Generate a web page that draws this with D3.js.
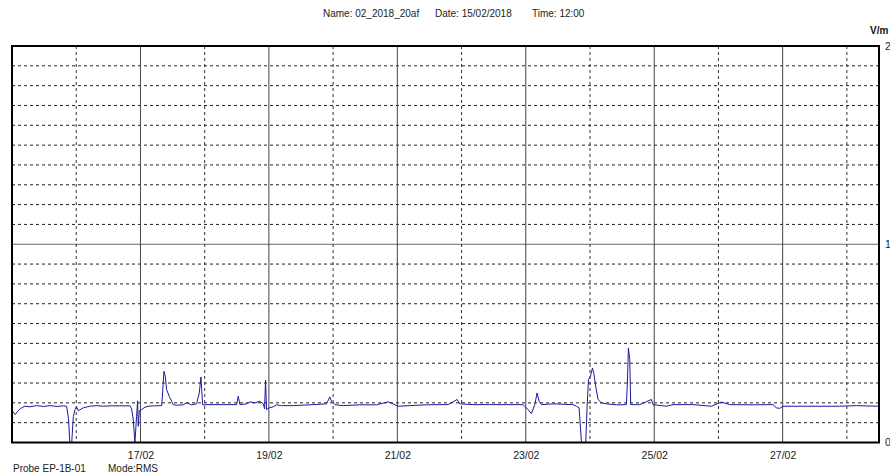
<!DOCTYPE html>
<html>
<head>
<meta charset="utf-8">
<script src="https://cdn.jsdelivr.net/npm/d3@7"></script>
<style>
  body { margin: 0; background: #fff; }
  text { font-family: "Liberation Sans", Arial, sans-serif; }
</style>
</head>
<body>
<div id="chart"></div>
<script>
// time in days of February 2018 (15.5 = 15/02 12:00)
var days = [15.01, 15.05, 15.10, 15.15, 15.20, 15.28, 15.38, 15.49, 15.59, 15.70, 15.80, 15.85, 15.88, 15.90, 15.93, 15.955, 15.98, 16.006, 16.032, 16.11, 16.21, 16.32, 16.42, 16.53, 16.68, 16.84, 16.862, 16.888, 16.914, 16.94, 16.956, 16.966, 16.982, 17.018, 17.07, 17.12, 17.22, 17.33, 17.345, 17.366, 17.387, 17.407, 17.449, 17.485, 17.511, 17.563, 17.667, 17.719, 17.796, 17.874, 17.916, 17.942, 17.968, 18.082, 18.289, 18.497, 18.523, 18.549, 18.652, 18.704, 18.782, 18.86, 18.912, 18.933, 18.948, 18.964, 19.005, 19.067, 19.119, 19.197, 19.378, 19.638, 19.898, 19.949, 19.975, 20.027, 20.157, 20.416, 20.676, 20.857, 21.013, 21.195, 21.454, 21.661, 21.791, 21.931, 21.973, 22.18, 22.44, 22.699, 22.958, 22.984, 23.036, 23.088, 23.14, 23.176, 23.207, 23.244, 23.425, 23.736, 23.788, 23.83, 23.867, 23.903, 23.934, 23.955, 23.976, 24.007, 24.038, 24.058, 24.089, 24.125, 24.178, 24.255, 24.411, 24.567, 24.582, 24.598, 24.619, 24.634, 24.774, 24.956, 24.981, 25.189, 25.293, 25.604, 25.89, 26.045, 26.175, 26.538, 26.849, 26.901, 26.953, 27.005, 27.368, 27.887, 28.146, 28.484];

// field strength, V/m
var values = [0.158, 0.141, 0.162, 0.175, 0.183, 0.18, 0.186, 0.182, 0.186, 0.182, 0.185, 0.183, 0.12, 0, 0, 0.13, 0.165, 0.18, 0.16, 0.175, 0.183, 0.186, 0.183, 0.185, 0.185, 0.185, 0.17, 0.116, 0, 0.132, 0.21, 0.082, 0.16, 0.166, 0.178, 0.183, 0.185, 0.186, 0.25, 0.359, 0.334, 0.267, 0.233, 0.208, 0.191, 0.188, 0.19, 0.2, 0.19, 0.195, 0.25, 0.331, 0.19, 0.191, 0.191, 0.191, 0.233, 0.191, 0.195, 0.205, 0.2, 0.208, 0.195, 0.17, 0.314, 0.166, 0.175, 0.18, 0.19, 0.186, 0.186, 0.19, 0.195, 0.23, 0.208, 0.191, 0.186, 0.19, 0.19, 0.205, 0.183, 0.186, 0.19, 0.191, 0.191, 0.217, 0.195, 0.191, 0.191, 0.191, 0.191, 0.183, 0.166, 0.146, 0.191, 0.25, 0.208, 0.191, 0.195, 0.191, 0.183, 0.175, 0, 0, 0, 0.183, 0.317, 0.334, 0.376, 0.351, 0.284, 0.217, 0.2, 0.195, 0.19, 0.191, 0.3, 0.477, 0.418, 0.191, 0.191, 0.217, 0.191, 0.183, 0.191, 0.191, 0.183, 0.204, 0.191, 0.19, 0.191, 0.175, 0.172, 0.183, 0.183, 0.183, 0.186, 0.183];

var yTicks = [0, 1, 2];
var titleParts = ["Name: 02_2018_20af", "Date: 15/02/2018", "Time: 12:00"];
var probe = "Probe EP-1B-01";
var mode = "Mode:RMS";
var unit = "V/m";

var width = 890, height = 475;
var plot = {left: 12, right: 879, top: 46, bottom: 442.5};

var svg = d3.select("#chart")
    .append("svg")
    .attr("width", width)
    .attr("height", height);

function toDate(d) {
    return new Date(2018, 1, 1, 0, 0, 0, 0).getTime() + (d - 1) * 86400000;
}

var x = d3.scaleTime()
    .domain([new Date(2018, 1, 15), new Date(2018, 1, 28, 12)])
    .range([plot.left, plot.right]);

var y = d3.scaleLinear()
    .domain([0, 2])
    .range([plot.bottom, plot.top]);

// title
var titleX = [323, 435, 532];
svg.selectAll(".title")
    .data(titleParts)
    .enter()
    .append("text")
    .attr("x", function(d, i) { return titleX[i]; })
    .attr("y", 17)
    .attr("font-size", 10)
    .attr("fill", "#222")
    .text(function(d) { return d; });

// horizontal grid (every 0.1, solid at 1)
var hLines = d3.range(1, 20).map(function(i) { return i / 10; });
svg.append("g")
    .selectAll("line")
    .data(hLines)
    .enter()
    .append("line")
    .attr("x1", plot.left)
    .attr("x2", plot.right)
    .attr("y1", function(d) { return y(d); })
    .attr("y2", function(d) { return y(d); })
    .attr("stroke", function(d) { return Math.abs(d - 1) < 1e-6 ? "#666" : "#222"; })
    .attr("stroke-width", 1)
    .attr("stroke-dasharray", function(d) { return Math.abs(d - 1) < 1e-6 ? null : "3,3"; });

// vertical grid (each day, solid on labelled days)
var dayTicks = x.ticks(d3.timeDay.every(1)).filter(function(d) {
    return x(d) > plot.left + 1 && x(d) < plot.right - 1;
});
svg.append("g")
    .selectAll("line")
    .data(dayTicks)
    .enter()
    .append("line")
    .attr("x1", function(d) { return x(d); })
    .attr("x2", function(d) { return x(d); })
    .attr("y1", plot.top)
    .attr("y2", plot.bottom)
    .attr("stroke", function(d) { return d.getDate() % 2 === 1 ? "#444" : "#333"; })
    .attr("stroke-width", 1)
    .attr("stroke-dasharray", function(d) { return d.getDate() % 2 === 1 ? null : "3,3"; });

// x axis labels
var labelDays = dayTicks.filter(function(d) { return d.getDate() % 2 === 1; });
var xAxis = svg.append("g")
    .attr("transform", "translate(0," + plot.bottom + ")")
    .call(d3.axisBottom(x).tickValues(labelDays).tickSize(0).tickPadding(9)
        .tickFormat(d3.timeFormat("%d/%m")));
xAxis.select(".domain").remove();
xAxis.selectAll("text")
    .attr("font-family", "Liberation Sans, Arial, sans-serif")
    .attr("font-size", 10.5)
    .attr("fill", "#222");

// right axis labels
var yAxis = svg.append("g")
    .attr("transform", "translate(" + (plot.right + 2) + ",0)")
    .call(d3.axisRight(y).tickValues(yTicks).tickSize(0).tickPadding(4)
        .tickFormat(d3.format("d")));
yAxis.select(".domain").remove();
yAxis.selectAll("text")
    .attr("font-family", "Liberation Sans, Arial, sans-serif")
    .attr("font-size", 10.5)
    .attr("fill", "#222");

svg.append("text")
    .attr("x", 870)
    .attr("y", 34)
    .attr("font-size", 10)
    .attr("font-weight", "bold")
    .attr("fill", "#111")
    .text(unit);

// data line
svg.append("clipPath")
    .attr("id", "clip")
    .append("rect")
    .attr("x", plot.left)
    .attr("y", plot.top)
    .attr("width", plot.right - plot.left)
    .attr("height", plot.bottom - plot.top);

var line = d3.line()
    .x(function(d, i) { return x(toDate(days[i])); })
    .y(function(d) { return y(d); });

svg.append("path")
    .datum(values)
    .attr("clip-path", "url(#clip)")
    .attr("fill", "none")
    .attr("stroke", "#1a1a9e")
    .attr("stroke-width", 1)
    .attr("d", line);

// frame
svg.append("rect")
    .attr("x", plot.left)
    .attr("y", plot.top)
    .attr("width", plot.right - plot.left)
    .attr("height", plot.bottom - plot.top)
    .attr("fill", "none")
    .attr("stroke", "#000")
    .attr("stroke-width", 2);

// footer
svg.append("text")
    .attr("x", 13)
    .attr("y", 472)
    .attr("font-size", 10)
    .attr("fill", "#222")
    .text(probe);
svg.append("text")
    .attr("x", 108)
    .attr("y", 472)
    .attr("font-size", 10)
    .attr("fill", "#222")
    .text(mode);
</script>
</body>
</html>
